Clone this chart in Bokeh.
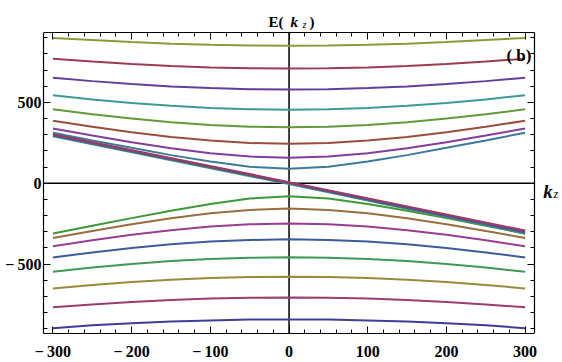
from bokeh.plotting import figure
from bokeh.models import Range1d, FixedTicker, LinearAxis, Label, CustomJSTickFormatter
from bokeh.embed import file_html
from bokeh.resources import INLINE

# ---- data ----
K = [-300, -250, -200, -150, -100, -50, 0, 50, 100, 150, 200, 250, 300]

# lower bands (bottom to top)
lower_1 = [-897, -879, -866, -856, -849, -844, -843, -844, -849, -856, -866, -879, -897]
lower_2 = [-768, -750, -735, -723, -714, -709, -707, -709, -714, -723, -735, -750, -768]
lower_3 = [-651, -630, -612, -597, -587, -580, -578, -580, -587, -597, -612, -630, -651]
lower_4 = [-548, -522, -500, -482, -469, -461, -458, -461, -469, -482, -500, -522, -548]
lower_5 = [-459, -428, -401, -378, -361, -351, -347, -351, -361, -378, -401, -428, -459]
lower_6 = [-390, -353, -319, -291, -268, -254, -249, -254, -268, -291, -319, -353, -390]
lower_7 = [-339, -295, -254, -217, -186, -165, -157, -165, -186, -217, -254, -295, -339]
lower_8 = [-311, -263, -216, -170, -129, -95, -81, -95, -129, -170, -216, -263, -311]

# upper bands (bottom to top)
upper_1 = [313, 265, 219, 174, 134, 102, 89, 102, 134, 174, 219, 265, 313]
upper_2 = [339, 295, 254, 217, 186, 165, 157, 165, 186, 217, 254, 295, 339]
upper_3 = [387, 349, 315, 286, 264, 249, 244, 249, 264, 286, 315, 349, 387]
upper_4 = [458, 427, 400, 377, 360, 350, 346, 350, 360, 377, 400, 427, 458]
upper_5 = [545, 519, 497, 479, 466, 458, 455, 458, 466, 479, 497, 519, 545]
upper_6 = [653, 632, 614, 599, 589, 582, 580, 582, 589, 599, 614, 632, 653]
upper_7 = [771, 753, 738, 726, 717, 712, 710, 712, 717, 726, 738, 753, 771]
upper_8 = [899, 887, 874, 864, 857, 852, 851, 852, 857, 864, 874, 887, 899]

# chiral (linear) branches
KC = [-300, 0, 300]
chiral_1 = [290, -5, -312]
chiral_2 = [296, 0, -305]
chiral_3 = [300, 3, -299]
chiral_4 = [304, 7, -293]

lower = [lower_1, lower_2, lower_3, lower_4, lower_5, lower_6, lower_7, lower_8]
upper = [upper_1, upper_2, upper_3, upper_4, upper_5, upper_6, upper_7, upper_8]
chiral = [chiral_1, chiral_2, chiral_3, chiral_4]

lower_colors = ["#3F3D99", "#993D71", "#998B3D", "#3D9956", "#3D5A99", "#993D90", "#996D3D", "#3D9937"]
upper_colors = ["#3D7999", "#843D99", "#994E3D", "#63993D", "#3D9997", "#643D99", "#993D52", "#8A993D"]
chiral_colors = ["#3D9970", "#3D6299", "#7A3D99", "#993D5E"]

x_ticks = [-300, -200, -100, 0, 100, 200, 300]
x_minor = list(range(-300, 301, 20))
y_ticks = [-500, 0, 500]
y_minor = list(range(-900, 901, 100))

# visible plot box (data units); the canvas ranges extend beyond it
XMIN, XMAX = -312, 312
YMIN, YMAX = -930, 933

p = figure(width=562, height=362, output_backend="svg", toolbar_location=None,
           x_range=Range1d(XMIN, 347.5), y_range=Range1d(YMIN, 1131),
           min_border=0, min_border_left=43, min_border_right=0,
           min_border_top=0, min_border_bottom=29)
p.grid.visible = False
p.outline_line_color = None
p.background_fill_color = "white"
p.border_fill_color = "white"


def style_axis(ax, labels=True, outward=False):
    ax.axis_line_color = "black"
    ax.axis_line_width = 1.2
    if outward:
        ax.major_tick_in, ax.major_tick_out = 0, 7
        ax.minor_tick_in, ax.minor_tick_out = 0, 4
    else:
        ax.major_tick_in, ax.major_tick_out = 7, 0
        ax.minor_tick_in, ax.minor_tick_out = 4, 0
    ax.major_tick_line_color = "black"
    ax.minor_tick_line_color = "black"
    ax.major_label_text_font = "Liberation Serif"
    ax.major_label_text_font_style = "bold"
    ax.major_label_text_font_size = "16px"
    ax.major_label_text_color = "black"
    if not labels:
        ax.formatter = CustomJSTickFormatter(code="return ''")
        ax.major_label_standoff = 0


def minus(v):
    return ("\u2212\u2009" + str(-v)) if v < 0 else str(v)


xb = p.xaxis[0]
yl = p.yaxis[0]
xb.ticker = FixedTicker(ticks=x_ticks, minor_ticks=x_minor)
yl.ticker = FixedTicker(ticks=y_ticks, minor_ticks=y_minor)
style_axis(xb)
style_axis(yl)
xb.bounds = (XMIN, XMAX)
yl.bounds = (YMIN, YMAX)
xb.major_label_standoff = 9
yl.major_label_standoff = 2
xb.major_label_overrides = {v: minus(v) for v in x_ticks}
yl.major_label_overrides = {v: minus(v) for v in y_ticks}

# mirrored frame sides (top and right) with ticks pointing into the box
xt = LinearAxis(ticker=FixedTicker(ticks=x_ticks, minor_ticks=x_minor),
                fixed_location=YMAX, bounds=(XMIN, XMAX))
yr = LinearAxis(ticker=FixedTicker(ticks=y_ticks, minor_ticks=y_minor),
                fixed_location=XMAX, bounds=(YMIN, YMAX))
style_axis(xt, labels=False, outward=True)
style_axis(yr, labels=False, outward=True)
p.add_layout(xt, "below")
p.add_layout(yr, "left")

# axes through the origin
p.segment(x0=[XMIN, 0], y0=[0, YMIN], x1=[XMAX, 0], y1=[0, YMAX],
          line_color="black", line_width=1.5)

for ys, c in zip(lower, lower_colors):
    p.line(K, ys, line_color=c, line_width=2)
for ys, c in zip(upper, upper_colors):
    p.line(K, ys, line_color=c, line_width=2)
for ys, c in zip(chiral, chiral_colors):
    p.line(KC, ys, line_color=c, line_width=2)


def lab(x, y, t, size, style="bold", align="left"):
    p.add_layout(Label(x=x, y=y, text=t, text_font="Liberation Serif", text_font_style=style,
                       text_font_size=size, text_color="black", text_align=align,
                       text_baseline="alphabetic"))


# title E(k_z)
lab(-26, 996, "E(", "15px")
lab(2, 996, "k", "15px", "bold italic")
lab(17, 982, "z", "10px", "italic")
lab(26, 996, ")", "15px")
# axis label k_z
lab(323, -50, "k", "19px", "bold italic")
lab(336, -67, "z", "12px", "italic")
# panel label
lab(308, 790, "( b)", "17px", "bold", "right")

open("out.html", "w").write(file_html(p, INLINE))
